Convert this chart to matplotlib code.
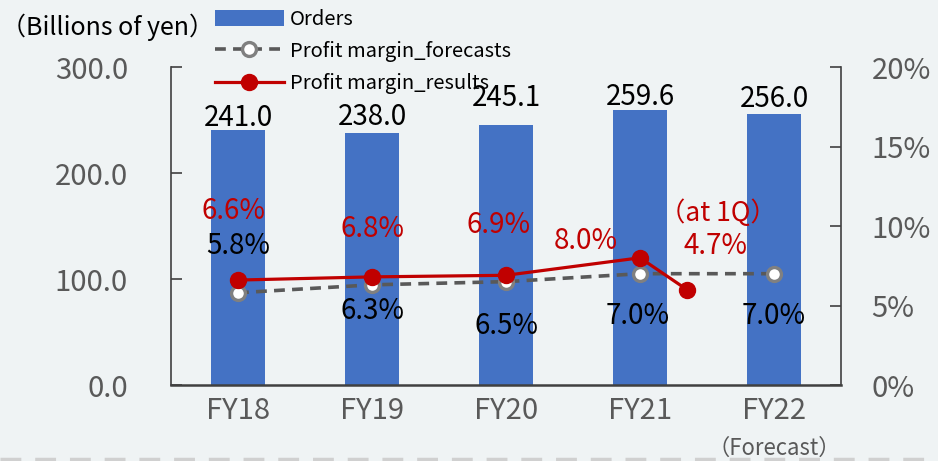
import matplotlib.pyplot as plt
from matplotlib.lines import Line2D
from matplotlib.patches import Patch

plt.rcParams['font.family'] = ['Noto Sans CJK JP', 'DejaVu Sans']

# Data
years = ['FY18', 'FY19', 'FY20', 'FY21', 'FY22']
orders = [241.0, 238.0, 245.1, 259.6, 256.0]
margin_forecast = [5.8, 6.3, 6.5, 7.0, 7.0]
margin_result = [6.6, 6.8, 6.9, 8.0]
# the extra "at 1Q" point sits between FY21 and FY22
q1_pos = 3.35
q1_value = 6.0
q1_label = '4.7%'

bg = '#eff3f4'
bar_color = '#4472c4'
red = '#c00000'
gray_line = '#595959'
gray_marker = '#808080'
label_gray = '#595959'

fig = plt.figure(figsize=(9.38, 4.61), dpi=100, facecolor=bg)
ax = fig.add_axes([171 / 938, 1 - 385 / 461, 670 / 938, 318 / 461])
ax.set_facecolor(bg)
ax2 = ax.twinx()

x = list(range(len(years)))
bars = ax.bar(x, orders, width=0.40, color=bar_color, zorder=2)
ax.set_xlim(-0.5, len(years) - 0.5)
ax.set_ylim(0, 300)
ax.set_yticks([0, 100, 200, 300])
ax.set_yticklabels(['%.1f' % v for v in [0, 100, 200, 300]])
ax.set_xticks(x)
ax.set_xticklabels(years)

# bar labels (pixel offsets above bar top)
bar_offsets = [-3, 1, 12, -2, 0]
for xi, v, off in zip(x, orders, bar_offsets):
    ax.annotate('%.1f' % v, (xi, v), xytext=(0, off), textcoords='offset pixels',
                ha='center', va='bottom', fontsize=20, color='black')

ax2.set_ylim(0, 20)
ax2.set_yticks([0, 5, 10, 15, 20])
ax2.set_yticklabels(['%d%%' % v for v in [0, 5, 10, 15, 20]])

ax2.plot(x, margin_forecast, color=gray_line, lw=2.6, ls=(0, (3, 2)),
         marker='o', ms=10, mfc='white', mec=gray_marker, mew=2.4, zorder=3)
ax2.plot(list(x[:4]) + [q1_pos], margin_result + [q1_value], color=red, lw=2.3,
         marker='o', ms=11.5, mfc=red, mec=red, zorder=4)

# forecast labels (pixel offsets)
fc_offsets = [(0, 47), (0, -26), (0, -44), (-2, -42), (0, -42)]
for xi, v, (dx, dy) in zip(x, margin_forecast, fc_offsets):
    ax2.annotate('%.1f%%' % v, (xi, v), xytext=(dx, dy), textcoords='offset pixels',
                 ha='center', va='center', fontsize=20, color='black')

res_offsets = [(-4, 69), (0, 48), (-7, 50), (-54, 17)]
for xi, v, (dx, dy) in zip(x, margin_result, res_offsets):
    ax2.annotate('%.1f%%' % v, (xi, v), xytext=(dx, dy), textcoords='offset pixels',
                 ha='center', va='center', fontsize=20, color=red)
ax2.annotate('（at 1Q）', (q1_pos, q1_value), xytext=(31, 76), textcoords='offset pixels',
             ha='center', va='center', fontsize=19, color=red)
ax2.annotate(q1_label, (q1_pos, q1_value), xytext=(29, 44), textcoords='offset pixels',
             ha='center', va='center', fontsize=20, color=red)

# spines and ticks
for a in (ax, ax2):
    a.spines['top'].set_visible(False)
    for s in ('left', 'right', 'bottom'):
        a.spines[s].set_color('#404040')
        a.spines[s].set_linewidth(1.2)
ax.spines['right'].set_visible(False)
ax2.spines['left'].set_visible(False)
ax2.spines['bottom'].set_visible(False)
ax.spines['bottom'].set_linewidth(1.8)

ax.tick_params(axis='y', direction='in', length=8, width=1.2, color='#404040',
               labelsize=21, labelcolor=label_gray, pad=31)
ax.tick_params(axis='x', length=0, labelsize=21, labelcolor=label_gray, pad=8)
ax2.tick_params(axis='y', direction='in', length=8, width=1.2, color='#404040',
                labelsize=21, labelcolor=label_gray, pad=22)

ax.text(4, -0.2, '（Forecast）', transform=ax.get_xaxis_transform(),
        ha='center', va='center', fontsize=16, color=label_gray)

fig.text(1 / 938, 1 - 27 / 461, '（Billions of yen）', ha='left', va='center',
         fontsize=18, color='black')

handles = [
    Patch(facecolor=bar_color, edgecolor='none'),
    Line2D([], [], color=gray_line, lw=2.6, ls=(0, (3, 2)), marker='o', ms=10,
           mfc='white', mec=gray_marker, mew=2.4),
    Line2D([], [], color=red, lw=2.3, marker='o', ms=11.5, mfc=red, mec=red),
]
fig.legend(handles, ['Orders', 'Profit margin_forecasts', 'Profit margin_results'],
           loc='upper left', bbox_to_anchor=(211 / 938, 1 - 5 / 461), frameon=False,
           fontsize=14.5, handlelength=3.4, handleheight=0.9, labelspacing=0.55,
           handletextpad=0.3, borderaxespad=0, borderpad=0.2)

# dashed separator along the bottom
fig.add_artist(Line2D([0, 1], [1 - 459 / 461] * 2, transform=fig.transFigure,
                      color='#d0d0d0', lw=2.5, ls=(0, (6, 4))))

fig.savefig('out.png', dpi=100, facecolor=bg)
